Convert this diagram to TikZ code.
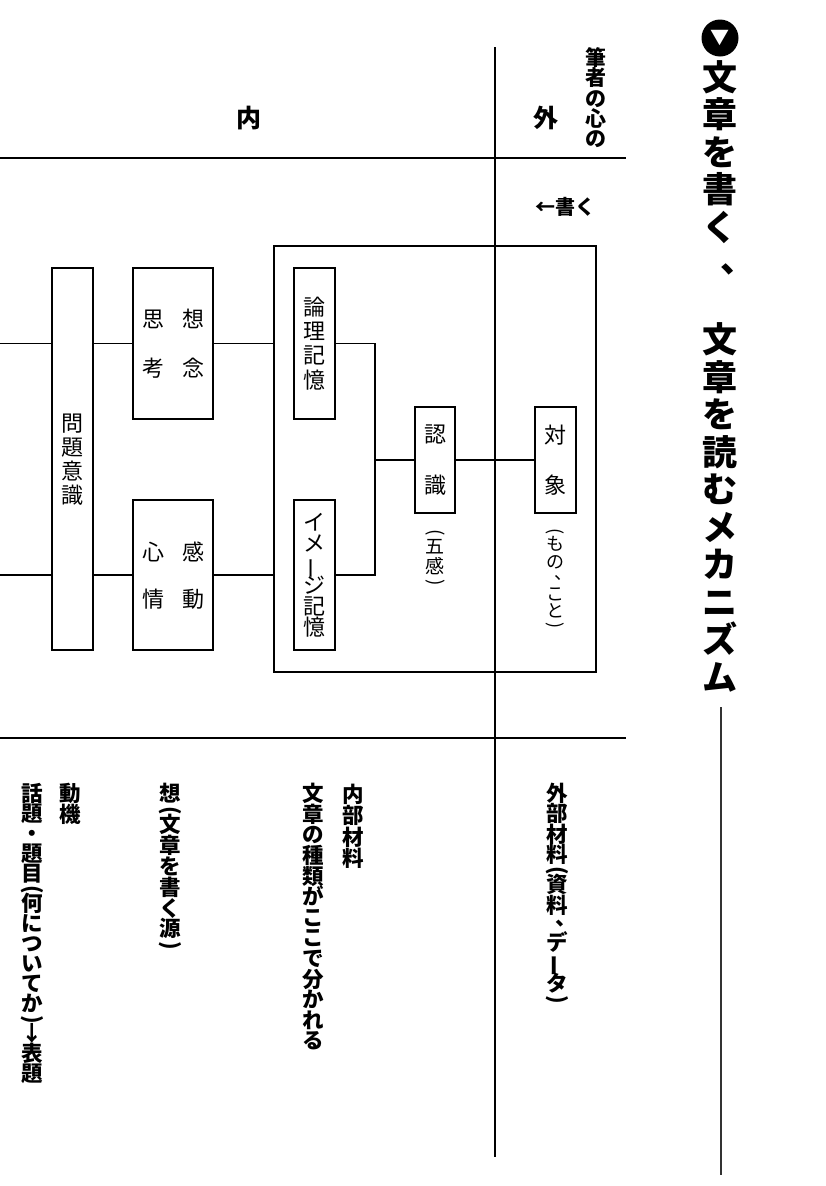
\documentclass[tikz,border=0pt]{standalone}
\usepackage{fontspec}
\usepackage{graphicx}
\newfontfamily\jp{Noto Sans CJK JP}
\usetikzlibrary{calc}

% ---- vertical (tategaki) stacking of characters ----
\newdimen\vtstep
\makeatletter
\def\vt@strut{\rule[-.12em]{0pt}{1em}}
\def\vt@cell#1{\vbox to\vtstep{\vss\hbox to 1em{\hss\vt@strut#1\hss}\vss}}
\def\vt@part#1#2{\vbox to #1\vtstep{\vss\hbox to 1em{\hss\vt@strut#2\hss}\vss}}
\def\vt@loop#1{%
  \ifx#1\relax\else
    \ifcat\noexpand#1\relax #1\else\vt@cell{#1}\fi
    \expandafter\vt@loop
  \fi}
% #1 = step between characters, #2 = text
\newcommand\tatebox[2]{\vbox{\offinterlineskip\vtstep=#1\relax\vt@loop#2\relax}}
% vertical forms
\newcommand\LP{\vt@part{.5}{\smash{\rotatebox[origin=c]{-90}{(}}}}
\newcommand\RP{\vt@part{.5}{\smash{\rotatebox[origin=c]{-90}{)}}}}
\newcommand\TC{\vt@part{.85}{\makebox[0pt][l]{\hspace{-.05em}\raisebox{.28em}[0pt][0pt]{、}}}}
\newcommand\TCF{\vt@cell{\makebox[0pt][l]{\raisebox{.15em}[0pt][0pt]{、}}}}
\newcommand\BAR{\vt@cell{\smash{\rotatebox[origin=c]{90}{ー}}}}
\newcommand\SP{\vt@cell{}}
\makeatother

\tikzset{
  frame/.style={draw, line width=1.2pt, inner sep=0pt},
  conn/.style={line width=1.2pt},
  rule/.style={line width=2pt},
  lab/.style={inner sep=0pt, font=\jp\fontsize{22}{22}\selectfont},
  blab/.style={inner sep=0pt, font=\jp\bfseries\fontsize{21.5}{21.5}\selectfont},
}

\begin{document}
\begin{tikzpicture}[x=1pt, y=-1pt]
\useasboundingbox (0,0) rectangle (825,1186);
\fill[white] (0,0) rectangle (825,1186);

% ---- title column ----
\node[circle, fill=black, minimum size=37pt, inner sep=0pt] (mark) at (720,38) {};
\node[text=white, inner sep=0pt, font=\jp\fontsize{19}{19}\selectfont] (markv) at (720,38.5) {▼};
\node[blab, anchor=north, font=\jp\bfseries\fontsize{35}{35}\selectfont] (title) at (720,58)
  {\tatebox{37.5pt}{文章を書く\TCF\SP 文章を読むメカニズム}};
\coordinate (tl1) at (721,707);
\coordinate (tl2) at (721,1175);
\draw[line width=1.4pt, black!80] (tl1) -- (tl2);

% ---- ruled frame: inside / outside of the writer's mind ----
\coordinate (vtop) at (495,47);
\coordinate (vbot) at (495,1157);
\coordinate (h1l) at (0,158);
\coordinate (h1r) at (626,158);
\coordinate (h2l) at (0,738);
\coordinate (h2r) at (626,738);
\draw[rule] (h1l) -- (h1r);
\draw[rule] (h2l) -- (h2r);

\node[blab, font=\jp\bfseries\fontsize{25}{25}\selectfont] (uchi) at (249,118) {内};
\node[blab, font=\jp\bfseries\fontsize{25}{25}\selectfont] (soto) at (545.5,118) {外};
\node[blab, anchor=north, font=\jp\bfseries\fontsize{21}{21}\selectfont] (hissha) at (596,47)
  {\tatebox{20.4pt}{筆者の心の}};
\node[blab, font=\jp\bfseries\fontsize{20}{20}\selectfont] (kaku) at (565,207) {←書く};

% ---- boxes ----
\node[frame, minimum width=322pt, minimum height=426pt] (outer) at (435,459) {};
\node[frame, lab, minimum width=41pt, minimum height=382pt] (mondai) at (72.5,459)
  {\tatebox{24pt}{問題意識}};
\node[frame, minimum width=80pt, minimum height=151pt] (shinen) at (173,343.5) {};
\node[frame, minimum width=80pt, minimum height=150pt] (kando) at (173,575) {};
\node[frame, lab, minimum width=41pt, minimum height=151pt] (ronri) at (314.5,343.5)
  {\tatebox{24.2pt}{論理記憶}};
\node[frame, lab, minimum width=41pt, minimum height=150pt] (image) at (314.5,575)
  {\tatebox{21pt}{イメ\BAR ジ記憶}};
\node[frame, lab, minimum width=40pt, minimum height=106pt] (ninshiki) at (435,460)
  {\tatebox{51pt}{認識}};
\node[frame, lab, minimum width=41pt, minimum height=106pt] (taisho) at (555.5,460)
  {\tatebox{50pt}{対象}};

% two-column labels
\node[lab] (shinenA) at (193,343.5) {\tatebox{48.5pt}{想念}};
\node[lab] (shinenB) at (153,343.5) {\tatebox{48.5pt}{思考}};
\node[lab] (kandoA) at (193,575.5) {\tatebox{46.5pt}{感動}};
\node[lab] (kandoB) at (153,575.5) {\tatebox{46.5pt}{心情}};

% notes under the small boxes
\node[lab, anchor=north, font=\jp\fontsize{19}{19}\selectfont] (gokan) at (435,526)
  {\tatebox{20pt}{\LP 五感\RP}};
\node[lab, anchor=north, font=\jp\fontsize{18}{18}\selectfont] (mono) at (555.5,526)
  {\tatebox{17.5pt}{\LP もの\TC こと\RP}};

% ---- connectors ----
\coordinate (l1) at (0,343.5);
\coordinate (l2) at (0,575);
\coordinate (jm) at (375,460);
\draw[conn] (l1) -- (mondai.west |- l1);
\draw[conn] (mondai.east |- shinen.west) -- (shinen.west);
\draw[conn] (shinen.east) -- (outer.west |- shinen.east);
\draw[conn] (l2) -- (mondai.west |- l2);
\draw[conn] (mondai.east |- kando.west) -- (kando.west);
\draw[conn] (kando.east) -- (outer.west |- kando.east);
\draw[conn] (ronri.east) -- (ronri.east -| jm) -- (image.east -| jm) -- (image.east);
\draw[conn] (jm) -- (ninshiki.west);
\draw[conn] (ninshiki.east) -- (taisho.west);

\draw[rule] (vtop) -- (vbot);

% ---- materials (lower band) ----
\node[blab, anchor=north] (gaibu) at (557,783)
  {\tatebox{20.3pt}{外部材料\LP 資料\TC デ\BAR タ\RP}};
\node[blab, anchor=north] (naibu) at (353,783)
  {\tatebox{21.6pt}{内部材料}};
\node[blab, anchor=north] (shurui) at (313,783)
  {\tatebox{20.6pt}{文章の種類がここで分かれる}};
\node[blab, anchor=north] (so) at (170,783)
  {\tatebox{20.8pt}{想\LP 文章を書く源\RP}};
\node[blab, anchor=north] (doki) at (70,783)
  {\tatebox{20.8pt}{動機}};
\node[blab, anchor=north] (wadai) at (32,783)
  {\tatebox{20pt}{話題・題目\LP 何についてか\RP ↓表題}};
\end{tikzpicture}
\end{document}
